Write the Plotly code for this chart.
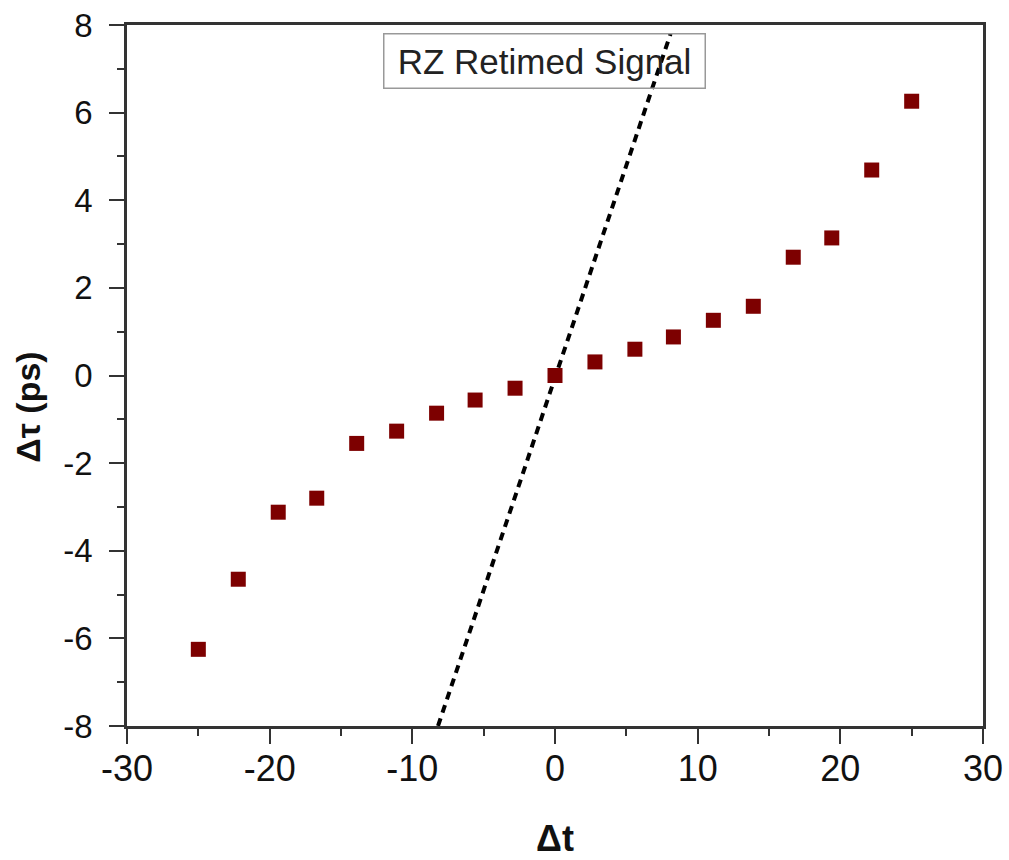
import plotly.graph_objects as go

# Data
dt = [-25.0, -22.2, -19.4, -16.7, -13.9, -11.1, -8.3, -5.6, -2.8, 0.0,
      2.8, 5.6, 8.3, 11.1, 13.9, 16.7, 19.4, 22.2, 25.0]
dtau = [-6.25, -4.65, -3.12, -2.80, -1.55, -1.27, -0.86, -0.56, -0.29, 0.0,
        0.31, 0.60, 0.88, 1.26, 1.58, 2.70, 3.14, 4.69, 6.26]
ref_x = [-8.2, 8.1]
ref_y = [-8.0, 7.8]

x_ticks = [-30, -20, -10, 0, 10, 20, 30]
y_ticks = [-8, -6, -4, -2, 0, 2, 4, 6, 8]

FONT = "Arial, Liberation Sans, sans-serif"

fig = go.Figure()
fig.add_trace(go.Scatter(
    x=ref_x, y=ref_y, mode="lines",
    line=dict(color="black", width=4, dash="8px,6px"),
    showlegend=False, hoverinfo="skip"))
fig.add_trace(go.Scatter(
    x=dt, y=dtau, mode="markers", name="RZ Retimed Signal",
    marker=dict(symbol="square", size=15, color="#7d0000"),
    showlegend=False))

axis_common = dict(
    showgrid=False, zeroline=False, showline=True, mirror=True,
    linecolor="#333333", linewidth=2.5, automargin=False,
    ticks="outside", ticklen=15, tickwidth=2, tickcolor="#333333",
)

fig.update_xaxes(
    range=[-30, 30], tickvals=x_ticks, ticktext=[str(v) for v in x_ticks],
    tickfont=dict(family=FONT, size=36, color="#111111"),
    minor=dict(dtick=5, tick0=0, ticks="outside", ticklen=7, tickwidth=2, tickcolor="#333333"),
    ticklabelstandoff=-6,
    **axis_common)
fig.update_yaxes(
    range=[-8, 8], tickvals=y_ticks, ticktext=[str(v) for v in y_ticks],
    tickfont=dict(family=FONT, size=33, color="#111111"),
    minor=dict(dtick=1, tick0=0, ticks="outside", ticklen=7, tickwidth=2, tickcolor="#333333"),
    ticklabelstandoff=10,
    **axis_common)

fig.add_annotation(
    text="RZ Retimed Signal", xref="paper", yref="paper",
    x=0.488, y=0.948, xanchor="center", yanchor="middle", showarrow=False,
    width=312, height=45,
    font=dict(family=FONT, size=35, color="#222222"),
    bordercolor="#999999", borderwidth=1.5, borderpad=4, bgcolor="rgba(255,255,255,0)")
fig.add_annotation(
    text="<b>Δt</b>", xref="paper", yref="paper",
    x=0.5, y=-0.16, xanchor="center", yanchor="middle", showarrow=False,
    font=dict(family=FONT, size=36, color="#111111"))
fig.add_annotation(
    text="<b>Δτ (ps)</b>", xref="paper", yref="paper", textangle=-90,
    x=-0.116, y=0.455, xanchor="center", yanchor="middle", showarrow=False,
    font=dict(family=FONT, size=34, color="#111111"))

fig.update_layout(
    width=1009, height=860,
    margin=dict(l=127, r=26, t=25, b=134, autoexpand=False),
    paper_bgcolor="white", plot_bgcolor="white",
)

fig.write_html(
    "out.html",
    config={"displayModeBar": False},
    post_script="document.body.style.margin='0';document.body.style.overflow='hidden';",
)
